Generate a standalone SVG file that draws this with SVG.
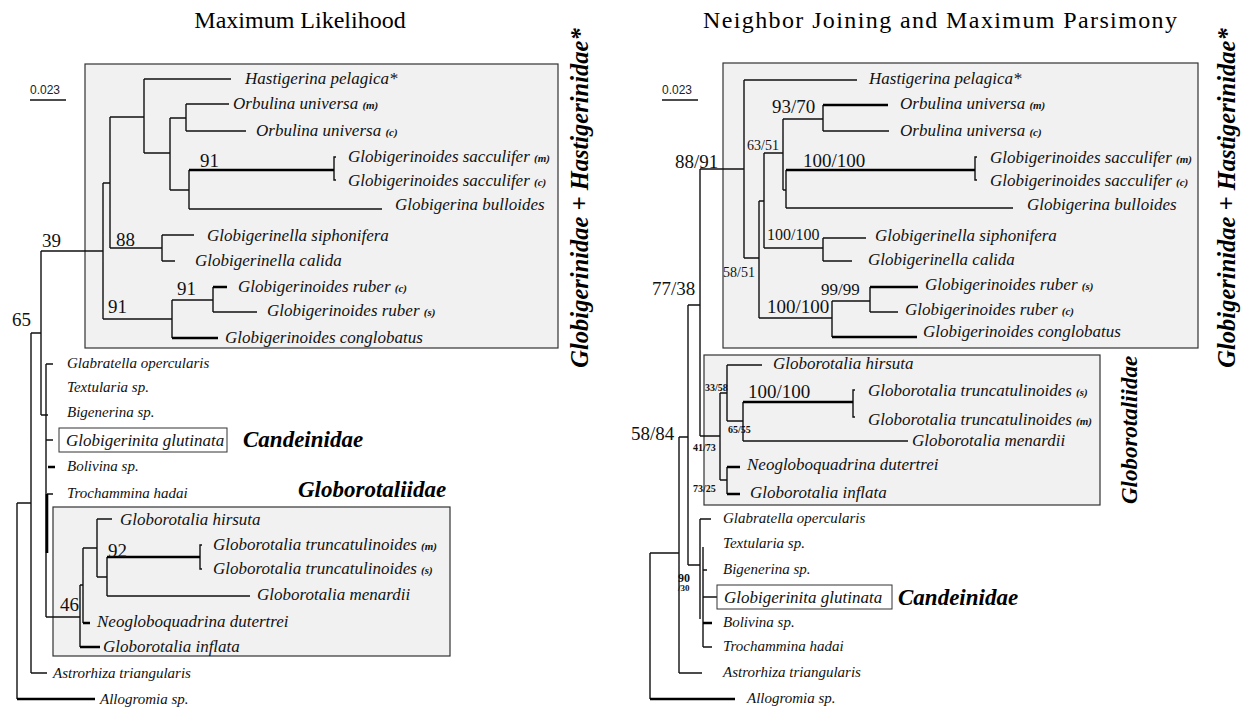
<svg xmlns="http://www.w3.org/2000/svg" width="1248" height="709" viewBox="0 0 1248 709">
<style>
.t{font-family:"Liberation Serif","Times New Roman",serif;font-style:italic;font-size:17px;fill:#111}
.s{font-size:15px}
.sm{font-size:11px;font-weight:bold}
.n{font-family:"Liberation Serif","Times New Roman",serif;font-size:19px;fill:#111}
.nb{font-family:"Liberation Serif","Times New Roman",serif;font-size:10px;font-weight:bold;fill:#111}
.g{font-family:"Liberation Serif","Times New Roman",serif;font-style:italic;font-weight:bold;font-size:23px;fill:#000}
.gv{font-size:24.5px}
.ti{font-family:"Liberation Serif","Times New Roman",serif;font-size:24px;fill:#000}
.sc{font-family:"Liberation Sans",Arial,sans-serif;font-size:12px;fill:#222}
.box{fill:#f1f1f1;stroke:#333;stroke-width:1.2}
.wbox{fill:#fff;stroke:#333;stroke-width:1}
.br{fill:none;stroke:#111;stroke-width:1.4}
.bt{fill:none;stroke:#000;stroke-width:2.6}
</style>
<rect width="1248" height="709" fill="#fff"/>
<!-- titles -->
<text class="ti" x="300" y="28" text-anchor="middle">Maximum Likelihood</text>
<text class="ti" x="703" y="28" textLength="474" lengthAdjust="spacing">Neighbor Joining and Maximum Parsimony</text>
<!-- scale bars -->
<g id="scale-left"><text class="sc" x="30" y="94">0.023</text><path class="br" d="M30 100H66"/></g>
<g id="scale-right"><text class="sc" x="662" y="94">0.023</text><path class="br" d="M662 100H698"/></g>
<!-- clade boxes -->
<g id="box-left-glob"><rect class="box" x="85" y="64" width="473" height="284"/></g>
<g id="box-left-rot"><rect class="box" x="53" y="507" width="397" height="149"/></g>
<g id="box-right-glob"><rect class="box" x="723" y="63" width="475" height="285"/></g>
<g id="box-right-rot"><rect class="box" x="704" y="355" width="396" height="150"/></g>
<!-- connectors -->
<g id="connectors">
<path class="br" d="M17 503V699M17 503H31M31 333V673M31 333H41M31 673H47M41 251V415M41 251H103M41 415H48M46 364V617M46 364H53M46 440H53M47 494H53M46 617H80"/>
<path class="bt" d="M17 699H95M48 467H55M47 494V553"/>
<path class="br" d="M103 183V319M103 183H110M103 319H172M110 117V248M110 117H144M110 248H162M144 79V153M144 79H231M144 153H170M170 118V190M170 118H186M170 190H189M186 104V131M186 104H229M186 131H246M189 170V209M189 209H382M336 157H334V180H336M162 235V261M162 235H194M162 261H175M172 300V338M172 300H213M213 287V312M213 312H257"/>
<path class="bt" d="M189 170H334M172 338H218M213 287H227"/>
<path class="br" d="M80 585V647M80 585H83M83 548V623M83 548H97M97 519V577M97 519H112M97 577H107M107 557V596M107 596H250M202 545H200V569H202"/>
<path class="bt" d="M80 647H100M83 623H90M107 557H200"/>
<path class="br" d="M650 553V699M650 553H679M679 437V673M679 437H688M679 673H702M688 305V565M688 305H700M688 565H700M700 519V619M700 519H711M703 547V647M703 570H707M703 597H717M703 647H712"/>
<path class="bt" d="M650 699H735M703 623H712"/>
<path class="br" d="M700 169V436M700 169H744M700 436H720M744 80V258M744 80H857M744 258H759M759 201V318M759 201H764M759 318H832M764 153V248M764 153H783M764 248H823M783 119V190M783 119H823M783 190H786M786 170V208M786 208H1013M977 157H975V180H977M823 105V131M823 131H889M823 238V261M823 238H866M823 261H852M832 301V337M832 301H870M870 287V312M870 312H898"/>
<path class="bt" d="M786 170H975M823 105H888M832 337H917M870 287H918"/>
<path class="br" d="M720 393V480M720 393H727M720 480H727M727 365V421M727 365H762M727 421H743M743 402V441M743 441H908M855 390H853V417H855M727 467V494"/>
<path class="bt" d="M743 402H853M727 467H740M727 494H740"/>
</g>
<!-- left tree labels -->
<g id="L-hast"><text class="t" x="245" y="84">Hastigerina pelagica*</text></g>
<g id="L-orb-m"><text class="t" x="233" y="109">Orbulina universa <tspan class="sm">(m)</tspan></text></g>
<g id="L-orb-c"><text class="t" x="256" y="136">Orbulina universa <tspan class="sm">(c)</tspan></text></g>
<g id="L-sac-m"><text class="t" x="348" y="162">Globigerinoides sacculifer <tspan class="sm">(m)</tspan></text></g>
<g id="L-sac-c"><text class="t" x="348" y="186">Globigerinoides sacculifer <tspan class="sm">(c)</tspan></text></g>
<g id="L-bull"><text class="t" x="395" y="210">Globigerina bulloides</text></g>
<g id="L-siph"><text class="t" x="207" y="241">Globigerinella siphonifera</text></g>
<g id="L-cal"><text class="t" x="195" y="266">Globigerinella calida</text></g>
<g id="L-rub-c"><text class="t" x="238" y="292">Globigerinoides ruber <tspan class="sm">(c)</tspan></text></g>
<g id="L-rub-s"><text class="t" x="267" y="316">Globigerinoides ruber <tspan class="sm">(s)</tspan></text></g>
<g id="L-cong"><text class="t" x="225" y="343">Globigerinoides conglobatus</text></g>
<g id="L-glab"><text class="t s" x="67" y="368">Glabratella opercularis</text></g>
<g id="L-text"><text class="t s" x="67" y="392">Textularia sp.</text></g>
<g id="L-bige"><text class="t s" x="67" y="417">Bigenerina sp.</text></g>
<g id="L-glut"><rect class="wbox" x="59" y="428" width="168" height="24"/><text class="t" x="66" y="446">Globigerinita glutinata</text></g>
<g id="L-boli"><text class="t s" x="67" y="471">Bolivina sp.</text></g>
<g id="L-troc"><text class="t s" x="67" y="498">Trochammina hadai</text></g>
<g id="L-hirs"><text class="t" x="120" y="525">Globorotalia hirsuta</text></g>
<g id="L-tru-m"><text class="t" x="213" y="550">Globorotalia truncatulinoides <tspan class="sm">(m)</tspan></text></g>
<g id="L-tru-s"><text class="t" x="213" y="574">Globorotalia truncatulinoides <tspan class="sm">(s)</tspan></text></g>
<g id="L-mena"><text class="t" x="257" y="600">Globorotalia menardii</text></g>
<g id="L-neog"><text class="t" x="97" y="627">Neogloboquadrina dutertrei</text></g>
<g id="L-infl"><text class="t" x="103" y="652">Globorotalia inflata</text></g>
<g id="L-astr"><text class="t s" x="53" y="678">Astrorhiza triangularis</text></g>
<g id="L-allo"><text class="t s" x="100" y="704">Allogromia sp.</text></g>
<g id="L-support">
<text class="n" x="200" y="167">91</text>
<text class="n" x="116" y="246">88</text>
<text class="n" x="42" y="247">39</text>
<text class="n" x="177" y="295">91</text>
<text class="n" x="108" y="313">91</text>
<text class="n" x="12" y="326">65</text>
<text class="n" x="108" y="557">92</text>
<text class="n" x="60" y="611">46</text>
</g>
<g id="L-groups">
<text class="g" x="243" y="447">Candeinidae</text>
<text class="g" x="298" y="497">Globorotaliidae</text>
<text class="g gv" transform="translate(588 198) rotate(-90)" text-anchor="middle">Globigerinidae + Hastigerinidae*</text>
</g>
<!-- right tree labels -->
<g id="R-hast"><text class="t" x="869" y="84">Hastigerina pelagica*</text></g>
<g id="R-orb-m"><text class="t" x="900" y="109">Orbulina universa <tspan class="sm">(m)</tspan></text></g>
<g id="R-orb-c"><text class="t" x="900" y="136">Orbulina universa <tspan class="sm">(c)</tspan></text></g>
<g id="R-sac-m"><text class="t" x="990" y="163">Globigerinoides sacculifer <tspan class="sm">(m)</tspan></text></g>
<g id="R-sac-c"><text class="t" x="990" y="186">Globigerinoides sacculifer <tspan class="sm">(c)</tspan></text></g>
<g id="R-bull"><text class="t" x="1027" y="210">Globigerina bulloides</text></g>
<g id="R-siph"><text class="t" x="875" y="241">Globigerinella siphonifera</text></g>
<g id="R-cal"><text class="t" x="868" y="265">Globigerinella calida</text></g>
<g id="R-rub-s"><text class="t" x="925" y="290">Globigerinoides ruber <tspan class="sm">(s)</tspan></text></g>
<g id="R-rub-c"><text class="t" x="905" y="315">Globigerinoides ruber <tspan class="sm">(c)</tspan></text></g>
<g id="R-cong"><text class="t" x="923" y="337">Globigerinoides conglobatus</text></g>
<g id="R-hirs"><text class="t" x="773" y="369">Globorotalia hirsuta</text></g>
<g id="R-tru-s"><text class="t" x="868" y="396">Globorotalia truncatulinoides <tspan class="sm">(s)</tspan></text></g>
<g id="R-tru-m"><text class="t" x="868" y="425">Globorotalia truncatulinoides <tspan class="sm">(m)</tspan></text></g>
<g id="R-mena"><text class="t" x="912" y="446">Globorotalia menardii</text></g>
<g id="R-neog"><text class="t" x="747" y="470">Neogloboquadrina dutertrei</text></g>
<g id="R-infl"><text class="t" x="750" y="498">Globorotalia inflata</text></g>
<g id="R-glab"><text class="t s" x="723" y="523">Glabratella opercularis</text></g>
<g id="R-text"><text class="t s" x="723" y="548">Textularia sp.</text></g>
<g id="R-bige"><text class="t s" x="723" y="574">Bigenerina sp.</text></g>
<g id="R-glut"><rect class="wbox" x="717" y="585" width="175" height="24"/><text class="t" x="724" y="603">Globigerinita glutinata</text></g>
<g id="R-boli"><text class="t s" x="723" y="627">Bolivina sp.</text></g>
<g id="R-troc"><text class="t s" x="723" y="651">Trochammina hadai</text></g>
<g id="R-astr"><text class="t s" x="723" y="677">Astrorhiza triangularis</text></g>
<g id="R-allo"><text class="t s" x="747" y="703">Allogromia sp.</text></g>
<g id="R-support">
<text class="n" x="772" y="113">93/70</text>
<text class="n" x="675" y="168">88/91</text>
<text class="n" style="font-size:14px" x="747" y="150">63/51</text>
<text class="n" x="803" y="167">100/100</text>
<text class="n" style="font-size:16px" x="767" y="240">100/100</text>
<text class="n" style="font-size:14px" x="723" y="277">58/51</text>
<text class="n" style="font-size:17px" x="821" y="295">99/99</text>
<text class="n" x="767" y="313">100/100</text>
<text class="n" x="652" y="295">77/38</text>
<text class="n" x="631" y="440">58/84</text>
<text class="nb" x="705" y="391">33/58</text>
<text class="n" x="748" y="398">100/100</text>
<text class="nb" x="728" y="433">65/55</text>
<text class="nb" x="693" y="451">41/73</text>
<text class="nb" x="693" y="492">73/25</text>
<text class="nb" style="font-size:12px" x="678" y="582">90</text>
<text class="nb" style="font-size:9px" x="678" y="591">/30</text>
</g>
<g id="R-groups">
<text class="g" x="898" y="605">Candeinidae</text>
<text class="g" transform="translate(1137 430) rotate(-90)" text-anchor="middle">Globorotaliidae</text>
<text class="g gv" transform="translate(1235 198) rotate(-90)" text-anchor="middle">Globigerinidae + Hastigerinidae*</text>
</g>
</svg>
